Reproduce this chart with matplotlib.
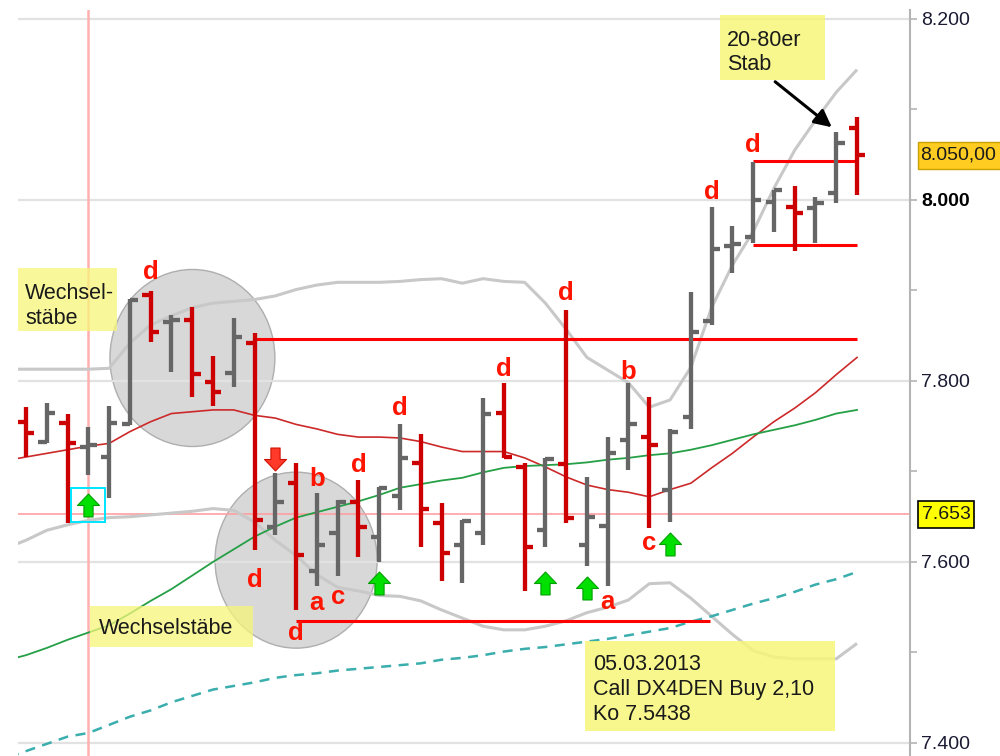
import matplotlib
matplotlib.use('Agg')
import matplotlib.pyplot as plt
from matplotlib.patches import Ellipse, Rectangle
from matplotlib.path import Path
import numpy as np

plt.rcParams['font.family'] = ['Liberation Sans', 'DejaVu Sans']

# ---------------- data ----------------
opens = [7755, 7733, 7754, 7727, 7716, 7752, 7895, 7865, 7867, 7799, 7809, 7842, 7639, 7687,
         7590, 7632, 7666, 7628, 7673, 7709, 7643, 7619, 7632, 7765, 7705, 7635, 7708, 7619,
         7640, 7735, 7738, 7680, 7760, 7866, 7949, 7959, 7998, 7992, 7991, 8008, 8080]
highs = [7771, 7776, 7764, 7749, 7772, 7891, 7899, 7873, 7882, 7828, 7870, 7853, 7698, 7709,
         7676, 7668, 7691, 7683, 7752, 7741, 7665, 7646, 7781, 7798, 7709, 7715, 7878, 7694,
         7738, 7798, 7782, 7747, 7898, 7992, 7971, 8042, 8011, 8015, 8003, 8075, 8092]
lows = [7716, 7731, 7643, 7696, 7671, 7751, 7843, 7810, 7782, 7772, 7793, 7613, 7630, 7547,
        7573, 7585, 7606, 7600, 7657, 7617, 7579, 7577, 7619, 7715, 7568, 7617, 7643, 7596,
        7573, 7702, 7638, 7644, 7747, 7862, 7919, 7952, 7965, 7944, 7952, 7997, 8006]
closes = [7743, 7765, 7731, 7729, 7754, 7890, 7854, 7867, 7808, 7788, 7849, 7646, 7666, 7608,
          7619, 7666, 7639, 7682, 7715, 7659, 7610, 7645, 7764, 7716, 7617, 7714, 7649, 7650,
          7720, 7752, 7729, 7744, 7854, 7946, 7951, 8000, 8011, 7986, 7997, 8063, 8050]

# indicator lines, bar index -1 .. 40
ma_red = [7712, 7716, 7720, 7724, 7728, 7731, 7744, 7755, 7764, 7766, 7768, 7768, 7762, 7759,
          7752, 7747, 7741, 7738, 7738, 7737, 7733, 7727, 7722, 7722, 7722, 7715, 7705, 7694,
          7685, 7680, 7677, 7672, 7680, 7687, 7704, 7720, 7738, 7755, 7770, 7787, 7807, 7826]
ma_green = [7491, 7497, 7505, 7514, 7522, 7530, 7543, 7557, 7570, 7585, 7600, 7614, 7628, 7639,
            7649, 7655, 7661, 7667, 7674, 7682, 7686, 7690, 7693, 7699, 7704, 7706, 7707, 7708,
            7710, 7713, 7715, 7718, 7720, 7724, 7729, 7735, 7741, 7746, 7751, 7757, 7764, 7768]
ma_teal = [7383, 7391, 7399, 7407, 7411, 7420, 7429, 7436, 7445, 7452, 7459, 7463, 7467, 7472,
           7475, 7477, 7480, 7482, 7484, 7486, 7488, 7492, 7494, 7497, 7501, 7504, 7506, 7509,
           7512, 7515, 7519, 7523, 7527, 7534, 7540, 7547, 7554, 7560, 7567, 7575, 7581, 7589]
band_up = [7813, 7813, 7813, 7813, 7813, 7814, 7842, 7862, 7872, 7881, 7886, 7888, 7890, 7894,
           7901, 7906, 7909, 7909, 7909, 7910, 7912, 7913, 7908, 7913, 7910, 7909, 7886, 7857,
           7826, 7812, 7798, 7771, 7779, 7815, 7881, 7928, 7965, 8013, 8055, 8088, 8119, 8144]
band_lo = [7615, 7624, 7635, 7641, 7646, 7649, 7650, 7652, 7654, 7656, 7659, 7657, 7644, 7624,
           7607, 7586, 7572, 7568, 7563, 7562, 7557, 7547, 7538, 7529, 7525, 7525, 7529, 7535,
           7544, 7550, 7558, 7576, 7577, 7560, 7540, 7520, 7502, 7495, 7493, 7493, 7493, 7510]

# horizontal levels: (price, from bar, to bar)
level_prices = [7846, 7535, 8043, 7950]
level_from = [11, 13, 35, 35]
level_to = [40, 32.9, 40, 40]

# wave letters: (bar, price, letter)
letter_bars = [6, 11, 13, 14, 14, 15, 16, 18, 23, 26, 28, 29, 30, 33, 35]
letter_prices = [7920, 7580, 7522, 7555, 7692, 7561, 7707, 7770, 7813, 7897, 7556, 7810, 7621, 8009, 8061]
letter_texts = ['d', 'd', 'd', 'a', 'b', 'c', 'd', 'd', 'd', 'd', 'a', 'b', 'c', 'd', 'd']

up_arrow_bars = [3, 17, 25, 27, 31]
up_arrow_prices = [7663, 7577, 7577, 7571, 7620]
down_arrow_bars = [12]
down_arrow_prices = [7714]

yticks = [7400, 7600, 7800, 8000, 8200]
ytick_labels = ['7.400', '7.600', '7.800', '8.000', '8.200']
last_price_label = '8.050,00'
marker_price = 7653
marker_label = '7.653'
marker_bar = 3

RED = '#cc0000'
GRAY = '#666666'

W, H = 1000, 756
fig = plt.figure(figsize=(W / 100, H / 100), dpi=100)
ax = fig.add_axes([18 / W, 0, (910 - 18) / W, (H - 10) / H])
ax.set_xlim(-0.385, 42.55)
ax.set_ylim(7385.6, 8209.9)

# grid / spines / ticks
ax.set_yticks(yticks)
ax.set_yticks([7500, 7700, 7900, 8100], minor=True)
ax.set_yticklabels(ytick_labels)
ax.yaxis.tick_right()
ax.set_xticks([])
ax.grid(axis='y', which='major', color='#e2e2e2', lw=1.6, zorder=0)
for s in ['left', 'top', 'bottom']:
    ax.spines[s].set_visible(False)
ax.spines['right'].set_color('#b4b4b4')
ax.spines['right'].set_linewidth(1.5)
ax.tick_params(axis='y', which='both', length=5, width=1.2, color='#b4b4b4',
               labelsize=14, labelcolor='#1a1a33', pad=3)
for lab in ax.get_yticklabels():
    if lab.get_text() == '8.000':
        lab.set_fontweight('bold')
        lab.set_color('black')

# circles
ax.add_patch(Ellipse((8.01, 7825.4), 7.94, 195.6, facecolor='#d4d4d4', edgecolor='#a8a8a8',
                     lw=1.0, alpha=0.9, zorder=1))
ax.add_patch(Ellipse((13.0, 7602), 7.8, 194.5, facecolor='#d4d4d4', edgecolor='#a8a8a8',
                     lw=1.0, alpha=0.9, zorder=1))

# pink cross-hair
ax.axhline(marker_price, color='#ff9f9f', lw=1.2, zorder=2)
ax.axvline(marker_bar, color='#ffb0b0', lw=1.8, zorder=2)

xi = np.arange(-1, len(opens))
ax.plot(xi, band_up, color='#c8c8c8', lw=2.2, zorder=2, solid_capstyle='butt')
ax.plot(xi, band_lo, color='#c8c8c8', lw=2.2, zorder=2, solid_capstyle='butt')
ax.plot(xi, ma_red, color='#cc2a2a', lw=1.2, zorder=3)
ax.plot(xi, ma_green, color='#25a046', lw=1.3, zorder=3)
ax.plot(xi, ma_teal, color='#3aadad', lw=1.8, ls=(0, (4, 3)), zorder=3)

# levels
for p, a, b in zip(level_prices, level_from, level_to):
    ax.hlines(p, a, b, color='#ff0000', lw=2.2, zorder=4)

# OHLC bars
tick = 0.4
for i in range(len(opens)):
    col = RED if closes[i] < opens[i] else GRAY
    ax.vlines(i, lows[i], highs[i], color=col, lw=3.1, zorder=5)
    ax.hlines(opens[i], i - tick, i, color=col, lw=3.1, zorder=5)
    ax.hlines(closes[i], i, i + tick, color=col, lw=3.1, zorder=5)

# letters
for b, p, t in zip(letter_bars, letter_prices, letter_texts):
    ax.text(b, p, t, color='#ff1400', fontsize=18.5, fontweight='bold',
            ha='center', va='center', zorder=6)

# arrows
verts = [(-0.2, -0.5), (0.2, -0.5), (0.2, 0.0), (0.48, 0.0), (0.0, 0.5), (-0.48, 0.0),
         (-0.2, 0.0), (-0.2, -0.5)]
codes = [Path.MOVETO] + [Path.LINETO] * 6 + [Path.CLOSEPOLY]
up_path = Path(verts, codes)
down_path = Path([(x, -y) for x, y in verts], codes)
ax.plot(up_arrow_bars, up_arrow_prices, ls='none', marker=up_path, markersize=16.5,
        markerfacecolor='#00e000', markeredgecolor='#00a000', markeredgewidth=0.8, zorder=7)
ax.plot(down_arrow_bars, down_arrow_prices, ls='none', marker=down_path, markersize=16.5,
        markerfacecolor='#ff3a2a', markeredgecolor='#d01000', markeredgewidth=0.8, zorder=7)
ax.add_patch(Rectangle((marker_bar - 0.82, 7644), 1.64, 38, facecolor='none',
                       edgecolor='#00e5ff', lw=1.4, zorder=7))


# ---------------- annotations in figure pixels ----------------
def fx(x):
    return x / W


def fy(y):
    return 1 - y / H


def box(x0, y0, x1, y1, fc, ec='none', lw=0, alpha=1.0, z=5):
    fig.patches.append(Rectangle((fx(x0), fy(y1)), (x1 - x0) / W, (y1 - y0) / H,
                                 transform=fig.transFigure, facecolor=fc, edgecolor=ec,
                                 lw=lw, alpha=alpha, zorder=z))


NOTE = '#f6f67a'
box(18, 268, 117, 331, NOTE, alpha=0.75)
fig.text(fx(25), fy(294), 'Wechsel-', fontsize=15.5, color='#1a1a1a', va='center', zorder=6)
fig.text(fx(25), fy(318), 'stäbe', fontsize=15.5, color='#1a1a1a', va='center', zorder=6)

box(90, 606, 253, 647, NOTE, alpha=0.75)
fig.text(fx(99), fy(629), 'Wechselstäbe', fontsize=15.5, color='#1a1a1a', va='center', zorder=6)

box(720, 15, 825, 80, NOTE, alpha=0.85)
fig.text(fx(727), fy(40), '20-80er', fontsize=15.5, color='#1a1a1a', va='center', zorder=6)
fig.text(fx(727), fy(64), 'Stab', fontsize=15.5, color='#1a1a1a', va='center', zorder=6)

box(585, 641, 835, 731, NOTE, alpha=0.85)
for txt, yy in zip(['05.03.2013', 'Call DX4DEN Buy 2,10', 'Ko 7.5438'], [665, 690, 714]):
    fig.text(fx(593), fy(yy), txt, fontsize=15.5, color='#1a1a1a', va='center', zorder=6)

fig.patches.append(matplotlib.patches.FancyArrowPatch(
    (fx(773), fy(80)), (fx(834), fy(129)), transform=fig.transFigure,
    arrowstyle='-|>', mutation_scale=26, color='black', lw=2.2, zorder=8))

# price boxes on axis
box(918, 501, 974, 528, '#ffff00', ec='black', lw=1.2, z=6)
fig.text(fx(946), fy(514.5), marker_label, fontsize=14, color='#1a1a1a', ha='center',
         va='center', zorder=7)
box(918, 142, 1003, 169, '#ffcc22', ec='#c8a000', lw=1.0, z=6)
fig.text(fx(920), fy(155.5), last_price_label, fontsize=14, color='#1a1a1a', ha='left',
         va='center', zorder=7)

fig.savefig('out.png', dpi=100)
